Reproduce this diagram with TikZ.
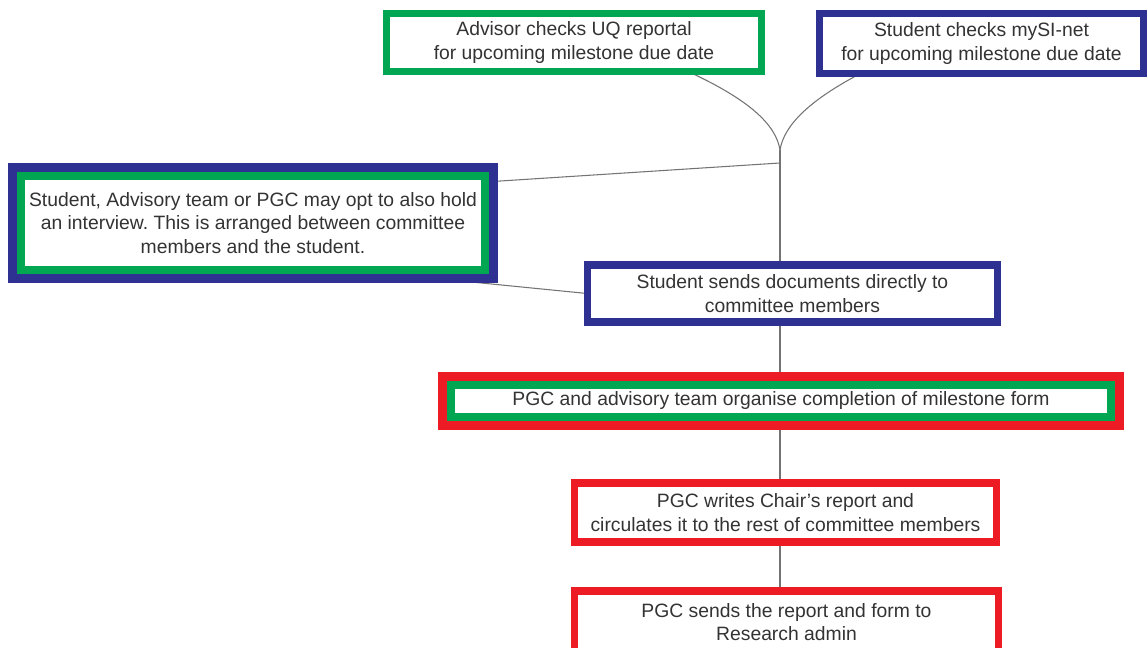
\documentclass[tikz,border=0pt]{standalone}
\usepackage{fontspec}
\setmainfont{Liberation Sans}
\usetikzlibrary{calc}
\pgfdeclarelayer{background}
\pgfsetlayers{background,main}
\definecolor{uqgreen}{RGB}{0,166,81}
\definecolor{uqblue}{RGB}{46,49,146}
\definecolor{uqred}{RGB}{237,28,36}
\frenchspacing

\begin{document}
\begin{tikzpicture}[x=0.02cm,y=-0.02cm,
    stepbox/.style={fill=white, line width=4pt, inner sep=0pt, outer sep=0pt, align=center, text=black!80, font=\fontsize{11pt}{13.3pt}\selectfont},
    twobox/.style={stepbox, line width=4.8pt, preaction={draw=#1, line width=14.6pt}},
    link/.style={draw=black!55, line width=0.6pt}]
    \useasboundingbox (0,0) rectangle (1147,648);

    \node[stepbox, draw=uqgreen, minimum width=7.5cm, minimum height=1.16cm] (advisor) at (574,42.5) {Advisor checks UQ reportal\\ for upcoming milestone due date}; % advisor
    \node[stepbox, draw=uqblue, minimum width=6.48cm, minimum height=1.2cm] (mysinet) at (981.5,43.5) {Student checks mySI-net\\for upcoming milestone due date}; % student
    \node[twobox=uqblue, draw=uqgreen, minimum width=9.28cm, minimum height=1.88cm] (interview) at (253,223) {Student, Advisory team or PGC may opt to also hold\\an interview. This is arranged between committee\\members and the student.};
    \node[stepbox, draw=uqblue, minimum width=8.22cm, minimum height=1.14cm] (senddocs) at (792.5,293.5) {Student sends documents directly to\\committee members};
    \node[twobox=uqred, draw=uqgreen, minimum width=13.2cm, minimum height=0.64cm] (milestone) at (781,401) {PGC and advisory team organise completion of milestone form};
    \node[stepbox, draw=uqred, minimum width=8.46cm, minimum height=1.18cm] (chair) at (785.5,512.5) {PGC writes Chair’s report and\\circulates it to the rest of committee members};
    \node[stepbox, draw=uqred, minimum width=8.5cm, minimum height=1.24cm] (admin) at (786.5,622) {PGC sends the report and form to\\Research admin};

    \coordinate (fork) at (780,150);
    \coordinate (tap) at (780,163);

    \begin{pgfonlayer}{background}
    \draw[link] ($(advisor.south)+(114,0)$) .. controls (750,100) and (776,125) .. (fork); % left branch
    \draw[link] ($(mysinet.south)+(-121,0)$) .. controls (810,100) and (784,125) .. (fork); % right branch
    \draw[link] (fork) -- (fork |- senddocs.north);
    \draw[link] (tap) -- ($(interview.east)+(0,-41)$);
    \draw[link] ($(interview.south east)+(-44,9)$) -- (senddocs.west);
    \draw[link] (fork |- senddocs.south) -- (fork |- milestone.north);
    \draw[link] (fork |- milestone.south) -- (fork |- chair.north);
    \draw[link] (fork |- chair.south) -- (fork |- admin.north);
    \end{pgfonlayer}
\end{tikzpicture}
\end{document}
